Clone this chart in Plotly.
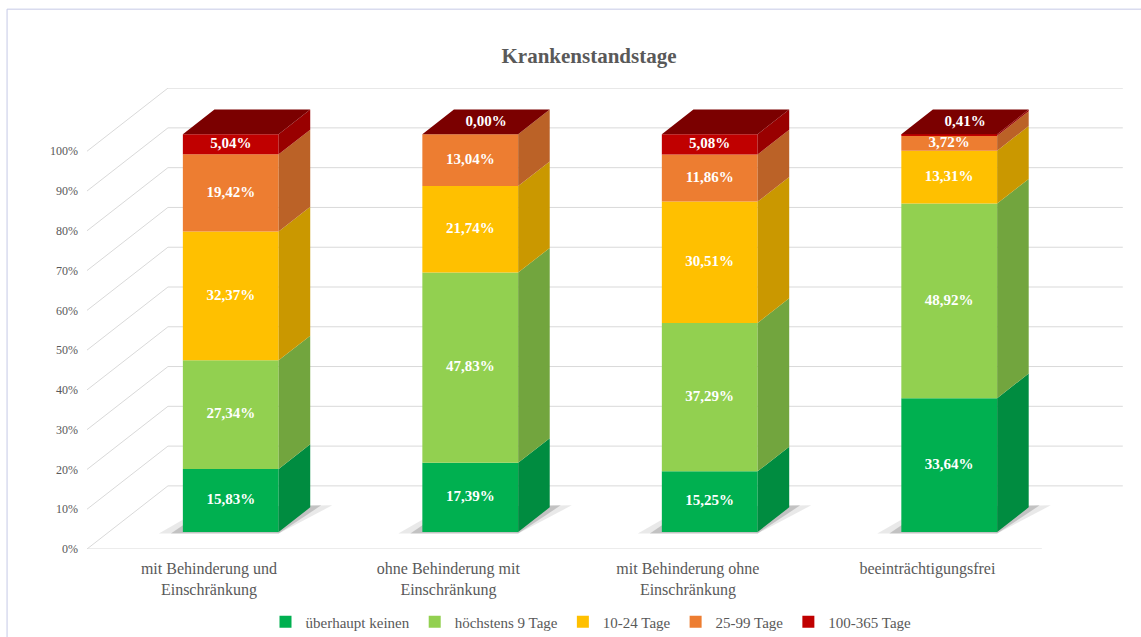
import plotly.graph_objects as go

# ---------------- data ----------------
categories = ["mit Behinderung und<br>Einschränkung",
              "ohne Behinderung mit<br>Einschränkung",
              "mit Behinderung ohne<br>Einschränkung",
              "beeinträchtigungsfrei"]
series_names = ["überhaupt keinen", "höchstens 9 Tage", "10-24 Tage", "25-99 Tage", "100-365 Tage"]
ueberhaupt_keinen = [15.83, 17.39, 15.25, 33.64]
hoechstens_9_tage = [27.34, 47.83, 37.29, 48.92]
tage_10_24 = [32.37, 21.74, 30.51, 13.31]
tage_25_99 = [19.42, 13.04, 11.86, 3.72]
tage_100_365 = [5.04, 0.00, 5.08, 0.41]
y_tick_values = [0, 10, 20, 30, 40, 50, 60, 70, 80, 90, 100]
y_tick_labels = ["0%", "10%", "20%", "30%", "40%", "50%", "60%", "70%", "80%", "90%", "100%"]

series_values = [ueberhaupt_keinen, hoechstens_9_tage, tage_10_24, tage_25_99, tage_100_365]

# ---------------- style ----------------
front_colors = ["#00B050", "#92D050", "#FFC000", "#ED7D31", "#C00000"]
side_colors = ["#008C40", "#72A53E", "#CA9800", "#BB6227", "#990000"]
top_color = "#7B0000"
FONT = "Liberation Serif"
TXT = "#595959"
GRID = "#D9D9D9"

W, H = 1141, 637

# oblique projection (data units)
DX, DY = 0.338, 15.87        # full depth of the chart box
F, BD = 0.27, 0.39           # bar front position and bar depth (fraction of full depth)
BW = 0.40                    # bar width
X0, X1 = -0.509, 3.478       # front floor extent
PXX, PXY = 1 / 239.5, 1 / 3.978   # data units per pixel

xs, ys = F * DX, F * DY
bdx, bdy = BD * DX, BD * DY
n = len(categories)
xpos = [i + xs for i in range(n)]

fig = go.Figure()
shapes = []

# gridlines (back wall + left diagonals) and floor front edge
for t in y_tick_values:
    shapes.append(dict(type="line", xref="x", yref="y", x0=X0, y0=t, x1=X0 + DX, y1=t + DY,
                       line=dict(color=GRID, width=1), layer="below"))
    shapes.append(dict(type="line", xref="x", yref="y", x0=X0 + DX, y0=t + DY, x1=X1 + DX, y1=t + DY,
                       line=dict(color=GRID, width=1), layer="below"))
shapes.append(dict(type="line", xref="x", yref="y", x0=X0, y0=0, x1=X1, y1=0,
                   line=dict(color=GRID, width=1), layer="below"))


def path(px, py):
    return "M " + " L ".join(f"{a},{b}" for a, b in zip(px, py)) + " Z"


# soft shadows under bars (below traces)
for alpha, grow in [(0.10, 1.0), (0.20, 0.5)]:
    for i in range(n):
        xl, xr = xpos[i] - BW / 2, xpos[i] + BW / 2
        b = ys
        px = [xl - 24 * PXX * grow, xr, xr + bdx + 22 * PXX * grow, xl + bdx - 10 * PXX * grow]
        py = [b - 1.5 * PXY, b - 1.5 * PXY, b + bdy + 2 * PXY, b + bdy]
        shapes.append(dict(type="path", xref="x", yref="y", path=path(px, py),
                           fillcolor=f"rgba(40,40,40,{alpha})", line=dict(width=0), layer="below"))

# front faces: bars
cum = [0.0] * n
bases = []
for k, (name, vals) in enumerate(zip(series_names, series_values)):
    base = [ys + c for c in cum]
    bases.append(base)
    fig.add_trace(go.Bar(x=xpos, y=vals, base=base, width=BW, name=name,
                         marker=dict(color=front_colors[k], line=dict(width=0)),
                         hoverinfo="skip"))
    cum = [c + v for c, v in zip(cum, vals)]

# side faces
for k, vals in enumerate(series_values):
    sx, sy = [], []
    for i in range(n):
        if vals[i] <= 0:
            continue
        xr = xpos[i] + BW / 2
        y0 = bases[k][i]
        y1 = y0 + vals[i]
        sx += [xr, xr + bdx, xr + bdx, xr, xr, None]
        sy += [y0, y0 + bdy, y1 + bdy, y1, y0, None]
    fig.add_trace(go.Scatter(x=sx, y=sy, fill="toself", mode="lines", line=dict(width=0),
                             fillcolor=side_colors[k], hoverinfo="skip", showlegend=False))

# top faces
tx, ty = [], []
for i in range(n):
    xl, xr = xpos[i] - BW / 2, xpos[i] + BW / 2
    top = ys + cum[i]
    tx += [xl, xr, xr + bdx, xl + bdx, xl, None]
    ty += [top, top, top + bdy, top + bdy, top, None]
fig.add_trace(go.Scatter(x=tx, y=ty, fill="toself", mode="lines", line=dict(width=0),
                         fillcolor=top_color, hoverinfo="skip", showlegend=False))

# data labels
for k, vals in enumerate(series_values):
    lx, ly, lt = [], [], []
    for i in range(n):
        v = vals[i]
        if v < 2:
            lx.append(xpos[i] + bdx / 2)
            ly.append(bases[k][i] + v + bdy / 2)
        else:
            lx.append(xpos[i])
            ly.append(bases[k][i] + v / 2)
        lt.append("<b>" + f"{v:.2f}".replace(".", ",") + "%</b>")
    fig.add_trace(go.Scatter(x=lx, y=ly, text=lt, mode="text",
                             textfont=dict(family=FONT, size=15, color="white"),
                             hoverinfo="skip", showlegend=False))

# outer chart frame
shapes.append(dict(type="rect", xref="paper", yref="paper", x0=-0.0771, y0=-0.5, x1=1.2, y1=1.171,
                   line=dict(color="#C5C9E6", width=1), layer="below"))

fig.update_layout(
    width=W, height=H,
    margin=dict(l=87, r=17, t=88, b=88, autoexpand=False),
    paper_bgcolor="white", plot_bgcolor="white",
    barmode="overlay",
    shapes=shapes,
    title=dict(text="<b>Krankenstandstage</b>", x=589 / W, xref="container", xanchor="center",
               y=1 - 56 / H, yref="container", yanchor="middle",
               font=dict(family=FONT, size=21, color=TXT)),
    xaxis=dict(range=[X0, X1 + DX + 0.005], tickvals=list(range(n)), ticktext=categories,
               showgrid=False, zeroline=False, showline=False, ticks="",
               ticklabelstandoff=8, automargin=False,
               tickfont=dict(family=FONT, size=16, color=TXT)),
    yaxis=dict(range=[0, 115.9], tickvals=y_tick_values, ticktext=y_tick_labels,
               showgrid=False, zeroline=False, showline=False, ticks="",
               ticklabelstandoff=8, automargin=False,
               tickfont=dict(family=FONT, size=12, color=TXT)),
    legend=dict(orientation="h", xref="container", yref="container", x=591 / W, xanchor="center",
                y=1 - 622 / H, yanchor="middle", font=dict(family=FONT, size=15, color=TXT),
                itemwidth=30, tracegroupgap=0),
    showlegend=True,
)

fig.write_html("out.html", config={"displayModeBar": False},
               post_script="document.body.style.margin='0';document.body.style.overflow='hidden';")
